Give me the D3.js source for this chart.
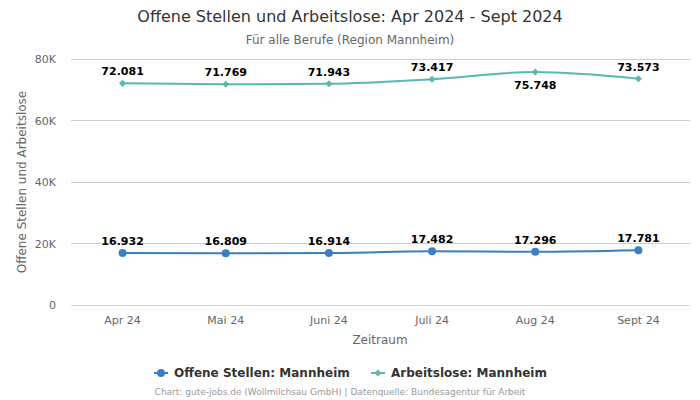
<!DOCTYPE html>
<html><head><meta charset="utf-8">
<script src="https://cdn.jsdelivr.net/npm/d3@7"></script>
<style>body{margin:0;background:#fff;font-family:"DejaVu Sans",sans-serif}</style>
</head><body><svg id="c" width="700" height="400"></svg>
<script>
const categories = ["Apr 24","Mai 24","Juni 24","Juli 24","Aug 24","Sept 24"];
const offeneStellen = [16932,16809,16914,17482,17296,17781];
const arbeitslose = [72081,71769,71943,73417,75748,73573];
const yTicks = [0,20000,40000,60000,80000];
const yTickLabels = ["0","20K","40K","60K","80K"];
const fmt = v => d3.format(",")(v).replace(/,/g,".");

const svg = d3.select("#c");
const L=71,R=690,T=59,B=305;
const x = d3.scaleBand().domain(categories).range([L,R]);
const y = d3.scaleLinear().domain([0,80000]).range([B,T]);
const cx = d => x(d)+x.bandwidth()/2;

svg.append("text").attr("x",350).attr("y",22).attr("text-anchor","middle").attr("font-size",16).attr("fill","#333").text("Offene Stellen und Arbeitslose: Apr 2024 - Sept 2024");
svg.append("text").attr("x",350).attr("y",44).attr("text-anchor","middle").attr("font-size",12).attr("fill","#666").text("Für alle Berufe (Region Mannheim)");

yTicks.forEach((t,i)=>{
  svg.append("line").attr("x1",L).attr("x2",R).attr("y1",y(t)).attr("y2",y(t)).attr("stroke",t===0?"#ccd6eb":"#cccccc").attr("stroke-width",1).attr("shape-rendering","crispEdges");
  svg.append("text").attr("x",56).attr("y",y(t)+4).attr("text-anchor","end").attr("font-size",11).attr("fill","#666").text(yTickLabels[i]);
});
categories.forEach(c=>{
  svg.append("text").attr("x",cx(c)).attr("y",324).attr("text-anchor","middle").attr("font-size",11).attr("fill","#666").text(c);
});
svg.append("text").attr("x",380).attr("y",344).attr("text-anchor","middle").attr("font-size",12).attr("fill","#666").text("Zeitraum");
svg.append("text").attr("transform","translate(26,182) rotate(-90)").attr("text-anchor","middle").attr("font-size",12).attr("fill","#666").text("Offene Stellen und Arbeitslose");

const line = d3.line().x((d,i)=>cx(categories[i])).y(d=>y(d)).curve(d3.curveMonotoneX);
const c1="#3a80c0", c2="#5bb8b0";
svg.append("path").attr("d",line(offeneStellen)).attr("fill","none").attr("stroke",c1).attr("stroke-width",2);
svg.append("path").attr("d",line(arbeitslose)).attr("fill","none").attr("stroke",c2).attr("stroke-width",2);
offeneStellen.forEach((v,i)=>{
  svg.append("circle").attr("cx",cx(categories[i])).attr("cy",y(v)).attr("r",4).attr("fill",c1);
  svg.append("text").attr("x",cx(categories[i])).attr("y",y(v)-8).attr("text-anchor","middle").attr("font-size",11).attr("font-weight","bold").attr("fill","#000").text(fmt(v));
});
const diamond = d3.symbol().type(d3.symbolDiamond2).size(32);
arbeitslose.forEach((v,i)=>{
  svg.append("path").attr("d",diamond()).attr("transform",`translate(${cx(categories[i])},${y(v)})`).attr("fill",c2);
  const below = i===4;
  svg.append("text").attr("x",cx(categories[i])).attr("y",below?y(v)+17:y(v)-8).attr("text-anchor","middle").attr("font-size",11).attr("font-weight","bold").attr("fill","#000").text(fmt(v));
});

// legend
const lg = svg.append("g");
lg.append("line").attr("x1",154).attr("x2",168).attr("y1",373).attr("y2",373).attr("stroke",c1).attr("stroke-width",2);
lg.append("circle").attr("cx",161).attr("cy",373).attr("r",4).attr("fill",c1);
lg.append("text").attr("x",174).attr("y",377).attr("font-size",12).attr("font-weight","bold").attr("fill","#333").text("Offene Stellen: Mannheim");
lg.append("line").attr("x1",371).attr("x2",385).attr("y1",373).attr("y2",373).attr("stroke",c2).attr("stroke-width",2);
lg.append("path").attr("d",diamond()).attr("transform","translate(378,373)").attr("fill",c2);
lg.append("text").attr("x",391).attr("y",377).attr("font-size",12).attr("font-weight","bold").attr("fill","#333").text("Arbeitslose: Mannheim");
svg.append("text").attr("x",340).attr("y",395).attr("text-anchor","middle").attr("font-size",9).attr("fill","#999").text("Chart: gute-jobs.de (Wollmilchsau GmbH) | Datenquelle: Bundesagentur für Arbeit");
</script></body></html>
